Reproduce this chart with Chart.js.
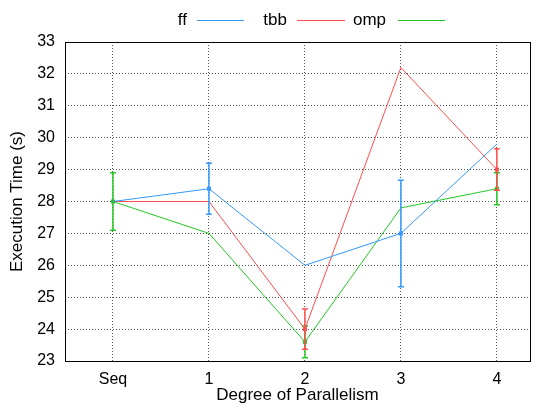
<!DOCTYPE html>
<html><head><meta charset="utf-8">
<script src="https://cdn.jsdelivr.net/npm/chart.js@4/dist/chart.umd.min.js"></script>
<style>html,body{margin:0;padding:0;background:#fff}canvas{display:block}</style>
</head><body>
<canvas id="c" width="542" height="409"></canvas>
<script>
const categories = ['Seq', '1', '2', '3', '4'];
const ffValues  = [28, 28.4, 26, 27, 29.8];
const ffErr     = [null, 0.8, null, 1.67, null];
const tbbValues = [28, 28, 24, 32.2, 29];
const tbbErr    = [null, null, 0.63, null, 0.65];
const ompValues = [28, 27, 23.6, 27.8, 28.4];
const ompErr    = [0.9, null, 0.5, null, 0.5];
const yTicks = [23, 24, 25, 26, 27, 28, 29, 30, 31, 32, 33];

const FONT = 'Liberation Sans, Arial, sans-serif';
const colors = ['#3399ff', '#ff4d4d', '#22c822'];

const errors = [ffErr, tbbErr, ompErr];

const errorPlugin = {
  id: 'errbars',
  afterDatasetDraw(chart, args) {
    const i = args.index;
    const errs = errors[i];
    const ds = chart.data.datasets[i];
    const xs = chart.scales.x, ys = chart.scales.y;
    const ctx = chart.ctx;
    ctx.save();
    ctx.strokeStyle = colors[i];
    ctx.fillStyle = colors[i];
    ctx.lineWidth = 1.5;
    ds.data.forEach((p, k) => {
      const e = errs[k];
      if (e == null) return;
      const px = xs.getPixelForValue(p.x);
      const py = ys.getPixelForValue(p.y);
      const t = ys.getPixelForValue(p.y + e);
      const b = ys.getPixelForValue(p.y - e);
      ctx.beginPath();
      ctx.moveTo(px, t); ctx.lineTo(px, b);
      ctx.moveTo(px - 3, t); ctx.lineTo(px + 3, t);
      ctx.moveTo(px - 3, b); ctx.lineTo(px + 3, b);
      ctx.stroke();
      ctx.fillRect(px - 2, py - 2, 4, 4);
    });
    ctx.restore();
  }
};

const framePlugin = {
  id: 'frame',
  afterDatasetsDraw(chart) {
    const a = chart.chartArea, ctx = chart.ctx;
    ctx.save();
    ctx.strokeStyle = '#000';
    ctx.lineWidth = 1;
    ctx.strokeRect(Math.round(a.left) + 0.5, Math.round(a.top) + 0.5,
                   Math.round(a.right - a.left), Math.round(a.bottom - a.top));
    ctx.restore();
  }
};

const legendPlugin = {
  id: 'gnulegend',
  afterDraw(chart) {
    const ctx = chart.ctx;
    const items = [
      {textRight: 187, lineFrom: 197, lineTo: 244},
      {textRight: 287, lineFrom: 297, lineTo: 345},
      {textRight: 386, lineFrom: 398, lineTo: 445}
    ];
    ctx.save();
    ctx.font = '17px ' + FONT;
    ctx.textBaseline = 'middle';
    ctx.textAlign = 'right';
    chart.data.datasets.forEach((ds, i) => {
      const it = items[i];
      ctx.fillStyle = '#000';
      ctx.fillText(ds.label, it.textRight, 20);
      ctx.strokeStyle = colors[i];
      ctx.lineWidth = 1;
      ctx.beginPath();
      ctx.moveTo(it.lineFrom, 20.5); ctx.lineTo(it.lineTo, 20.5);
      ctx.stroke();
    });
    ctx.restore();
  }
};

function pts(vals) { return vals.map((v, k) => ({x: k, y: v})); }

new Chart(document.getElementById('c'), {
  type: 'line',
  data: {
    datasets: [
      {label: 'ff', data: pts(ffValues)},
      {label: 'tbb', data: pts(tbbValues)},
      {label: 'omp', data: pts(ompValues)}
    ].map((d, i) => Object.assign(d, {
      borderColor: colors[i], backgroundColor: colors[i],
      borderWidth: 1, pointRadius: 0, tension: 0, fill: false
    }))
  },
  options: {
    responsive: false,
    animation: false,
    devicePixelRatio: 1,
    layout: {padding: {top: 42, right: 12, left: 0, bottom: 0}},
    plugins: {legend: {display: false}, tooltip: {enabled: false}},
    scales: {
      x: {
        type: 'linear', min: -0.5, max: 4.345,
        afterBuildTicks(s) { s.ticks = categories.map((c, k) => ({value: k})); },
        afterFit(s) { s.height = 48; },
        ticks: {
          callback: (v) => categories[v] ?? '',
          color: '#000', font: {family: FONT, size: 16}, padding: 9, maxRotation: 0
        },
        grid: {color: '#555', drawTicks: false, lineWidth: 1},
        border: {display: false, dash: [1, 2]},
        title: {display: true, text: 'Degree of Parallelism', color: '#000',
                font: {family: FONT, size: 17}, padding: {top: 0, bottom: 3}}
      },
      y: {
        min: 23, max: 33,
        afterBuildTicks(s) { s.ticks = yTicks.map(v => ({value: v})); },
        afterFit(s) { s.width = 65; },
        ticks: {color: '#000', font: {family: FONT, size: 16}, padding: 10},
        grid: {color: '#555', drawTicks: false, lineWidth: 1},
        border: {display: false, dash: [1, 2]},
        title: {display: true, text: 'Execution Time (s)', color: '#000',
                font: {family: FONT, size: 17}, padding: {top: 7, bottom: 0}}
      }
    }
  },
  plugins: [errorPlugin, framePlugin, legendPlugin]
});
</script>
</body></html>
